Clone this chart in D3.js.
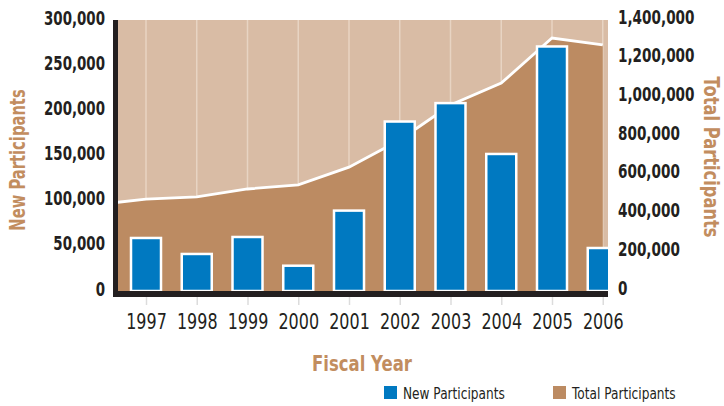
<!DOCTYPE html>
<html>
<head>
<meta charset="utf-8">
<title>New and Total Participants</title>
<script src="https://cdn.jsdelivr.net/npm/d3@7"></script>
<style>
  body { margin: 0; background: #fff; }
  text { font-family: "DejaVu Sans", sans-serif; }
</style>
</head>
<body>
<div id="chart"></div>
<script>
// data
var years = [1997, 1998, 1999, 2000, 2001, 2002, 2003, 2004, 2005, 2006];
var newParticipants = [58700, 41000, 59800, 28000, 89000, 187600, 208000, 151700, 270700, 47600];
// 1996 only shows as the left stub of the area
var totalYears = [1996, 1997, 1998, 1999, 2000, 2001, 2002, 2003, 2004, 2005, 2006];
var totalParticipants = [445000, 475000, 486000, 527000, 548000, 640000, 780000, 961000, 1074000, 1307000, 1271000];
var leftTicks = [0, 50000, 100000, 150000, 200000, 250000, 300000];
var rightTicks = [0, 200000, 400000, 600000, 800000, 1000000, 1200000, 1400000];

var W = 724, H = 406;
var pL = 118, pR = 608, pT = 20, pB = 291;
var blue = "#0079c1", tan = "#bc8b62", paleTan = "#d9bca5", titleTan = "#c28d5f", ink = "#231f20";

// no condensed face installed, so squeeze text horizontally
function condense(sel, sx) {
  sel.each(function () {
    var t = d3.select(this);
    var x0 = +t.attr("x") || 0;
    t.attr("x", x0 / sx).attr("transform", "scale(" + sx + ",1)");
  });
}

var svg = d3.select("#chart").append("svg").attr("width", W).attr("height", H);

var x = d3.scaleLinear().domain([1997, 2005]).range([146, 552]);
var yL = d3.scaleLinear().domain([0, 300000]).range([pB, pT]);
var yR = d3.scaleLinear().domain([0, 1400000]).range([pB, pT]);

svg.append("clipPath").attr("id", "plot")
  .append("rect").attr("x", pL).attr("y", pT).attr("width", pR - pL).attr("height", pB - pT);

var g = svg.append("g").attr("clip-path", "url(#plot)");

// background + vertical gridlines
g.append("rect").attr("x", pL).attr("y", pT).attr("width", pR - pL).attr("height", pB - pT)
  .attr("fill", paleTan);
g.selectAll("line.grid").data(years).enter().append("line")
  .attr("class", "grid")
  .attr("x1", d => x(d)).attr("x2", d => x(d))
  .attr("y1", pT).attr("y2", pB)
  .attr("stroke", "#e8d4c3").attr("stroke-width", 1.5);

// total participants area
var totals = totalYears.map((d, i) => ({ year: d, v: totalParticipants[i] }));
g.append("path").datum(totals)
  .attr("fill", tan)
  .attr("d", d3.area().x(d => x(d.year)).y0(pB).y1(d => yR(d.v)));
g.append("path").datum(totals)
  .attr("fill", "none").attr("stroke", "#fff").attr("stroke-width", 2.8)
  .attr("d", d3.line().x(d => x(d.year)).y(d => yR(d.v)));

// new participants bars
g.selectAll("rect.bar").data(years).enter().append("rect")
  .attr("class", "bar")
  .attr("x", d => x(d) - 15)
  .attr("width", 30)
  .attr("y", (d, i) => yL(newParticipants[i]))
  .attr("height", (d, i) => pB - yL(newParticipants[i]))
  .attr("fill", blue).attr("stroke", "#fff").attr("stroke-width", 2.5);

// axis frame
svg.append("rect").attr("x", pL - 5).attr("y", pT).attr("width", 5).attr("height", pB - pT + 6).attr("fill", ink);
svg.append("rect").attr("x", pL - 5).attr("y", pB).attr("width", pR - pL + 5).attr("height", 6).attr("fill", ink);

// left axis
var gl = svg.append("g").attr("transform", "translate(" + pL + ",0)")
  .call(d3.axisLeft(yL).tickValues(leftTicks).tickSize(0).tickPadding(13).tickFormat(d3.format(",")));
gl.select(".domain").remove();
gl.selectAll("text").attr("font-size", 20).attr("font-weight", "bold").attr("fill", ink).attr("dy", "0.2em")
  .call(condense, 0.67);

// right axis
var gr = svg.append("g").attr("transform", "translate(" + pR + ",0)")
  .call(d3.axisRight(yR).tickValues(rightTicks).tickSize(0).tickPadding(10).tickFormat(d3.format(",")));
gr.select(".domain").remove();
gr.selectAll("text").attr("font-size", 20).attr("font-weight", "bold").attr("fill", ink).attr("dy", "0.15em")
  .call(condense, 0.68);

// bottom axis
var gb = svg.append("g").attr("transform", "translate(0," + (pB + 6) + ")")
  .call(d3.axisBottom(x).tickValues(years).tickSize(8).tickPadding(9).tickFormat(d3.format("d")));
gb.select(".domain").remove();
gb.selectAll("line").attr("stroke", "#dcdcdc").attr("stroke-width", 1.5);
gb.selectAll("text").attr("font-size", 21).attr("fill", ink).attr("text-anchor", "middle")
  .call(condense, 0.76);

// axis titles
svg.append("g").attr("transform", "translate(362,371)")
  .append("text").attr("text-anchor", "middle")
  .attr("font-size", 22).attr("font-weight", "bold").attr("fill", titleTan).text("Fiscal Year")
  .call(condense, 0.75);
svg.append("g").attr("transform", "translate(25,160) rotate(-90)")
  .append("text").attr("text-anchor", "middle")
  .attr("font-size", 22).attr("font-weight", "bold").attr("fill", titleTan).text("New Participants")
  .call(condense, 0.67);
svg.append("g").attr("transform", "translate(704,157) rotate(90)")
  .append("text").attr("text-anchor", "middle")
  .attr("font-size", 22).attr("font-weight", "bold").attr("fill", titleTan).text("Total Participants")
  .call(condense, 0.74);

// legend
var legend = [{ label: "New Participants", color: blue, x: 384 }, { label: "Total Participants", color: tan, x: 553 }];
var lg = svg.selectAll("g.legend").data(legend).enter().append("g")
  .attr("class", "legend").attr("transform", d => "translate(" + d.x + ",386)");
lg.append("rect").attr("width", 13).attr("height", 13).attr("fill", d => d.color);
lg.append("text").attr("x", 19).attr("y", 13).attr("font-size", 16).attr("fill", ink).text(d => d.label)
  .call(condense, 0.76);
</script>
</body>
</html>
